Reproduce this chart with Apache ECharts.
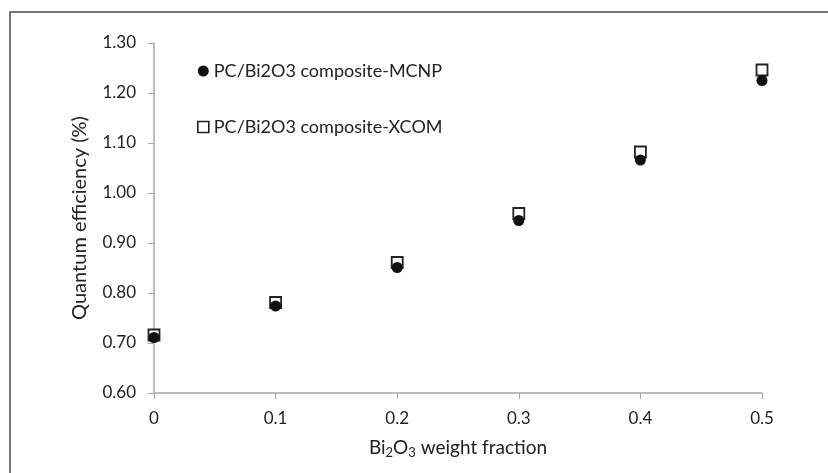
<!DOCTYPE html>
<html><head><meta charset="utf-8">
<script src="https://cdn.jsdelivr.net/npm/echarts@6/dist/echarts.min.js"></script>
<style>html,body{margin:0;padding:0;background:#fff}#c{width:828px;height:473px}</style>
</head><body><div id="c"></div>
<script>
const fractions = [0, 0.1, 0.2, 0.3, 0.4, 0.5];
const mcnp = [0.711, 0.774, 0.851, 0.945, 1.066, 1.225];
const xcom = [0.716, 0.781, 0.861, 0.959, 1.082, 1.246];
const seriesNames = ['PC/Bi2O3 composite-MCNP', 'PC/Bi2O3 composite-XCOM'];
const FONT = 'Lato, "Open Sans", sans-serif';
const chart = echarts.init(document.getElementById('c'));
chart.setOption({
  animation: false,
  backgroundColor: '#fff',
  grid: { left: 154, top: 43, right: 66, bottom: 80 },
  graphic: [{ type: 'rect', shape: { x: 10, y: 12, width: 900, height: 600 },
    style: { fill: 'none', stroke: '#4a4a4a', lineWidth: 1.5 } }],
  legend: {
    left: 192, top: 57, orient: 'vertical', itemGap: 38,
    itemWidth: 11, itemHeight: 11,
    textStyle: { fontFamily: FONT, fontSize: 18, color: '#222' },
    data: [
      { name: seriesNames[0], icon: 'circle', itemStyle: { color: '#111', borderWidth: 0 } },
      { name: seriesNames[1], icon: 'rect', itemStyle: { color: '#fff', borderColor: '#222', borderWidth: 1.6 } }
    ]
  },
  xAxis: {
    type: 'value', min: 0, max: 0.5, interval: 0.1,
    name: 'Bi{s|2}O{s|3} weight fraction', nameLocation: 'middle', nameGap: 44,
    nameTextStyle: { fontFamily: FONT, fontSize: 19, color: '#222',
      rich: { s: { fontFamily: FONT, fontSize: 13, color: '#222', verticalAlign: 'bottom', padding: [9, 0, 0, 0] } } },
    axisLine: { lineStyle: { color: '#a6a6a6', width: 1.5 } },
    axisTick: { show: true, length: 6, lineStyle: { color: '#a6a6a6' } },
    axisLabel: { fontFamily: FONT, fontSize: 17, color: '#222', margin: 17,
      formatter: v => String(Math.round(v * 10) / 10) },
    splitLine: { show: false }
  },
  yAxis: {
    type: 'value', min: 0.6, max: 1.3, interval: 0.1,
    name: 'Quantum efficiency (%)', nameLocation: 'middle', nameGap: 64, nameRotate: 90,
    nameTextStyle: { fontFamily: FONT, fontSize: 20, color: '#222' },
    axisLine: { show: true, lineStyle: { color: '#a6a6a6', width: 1.5 } },
    axisTick: { show: true, length: 6, lineStyle: { color: '#a6a6a6' } },
    axisLabel: { fontFamily: FONT, fontSize: 17, color: '#222', margin: 18,
      formatter: v => v.toFixed(2) },
    splitLine: { show: false }
  },
  series: [
    { name: seriesNames[1], type: 'scatter', symbol: 'rect', symbolSize: 11, z: 2,
      itemStyle: { color: '#fff', borderColor: '#222', borderWidth: 1.8, opacity: 1 },
      data: fractions.map((f, i) => [f, xcom[i]]) },
    { name: seriesNames[0], type: 'scatter', symbol: 'circle', symbolSize: 11, z: 3,
      itemStyle: { color: '#111', opacity: 1 },
      data: fractions.map((f, i) => [f, mcnp[i]]) }
  ]
});
</script></body></html>
